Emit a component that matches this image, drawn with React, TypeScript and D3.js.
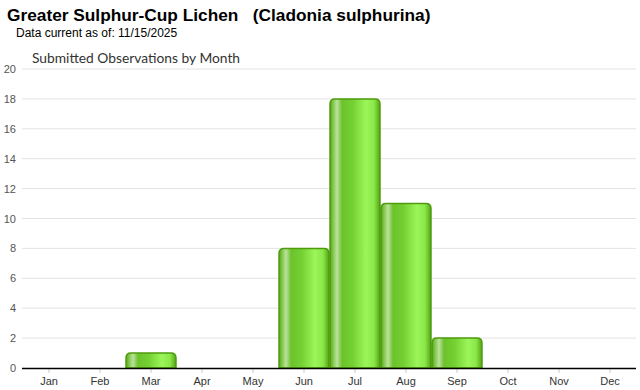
import React from "react";
import * as d3 from "d3";

const months = ["Jan","Feb","Mar","Apr","May","Jun","Jul","Aug","Sep","Oct","Nov","Dec"];
const counts = [0,0,1,0,0,8,18,11,2,0,0,0];
const yTicks = [0,2,4,6,8,10,12,14,16,18,20];

export default function App() {
  const W = 640, H = 390;
  const x = d3.scaleBand<string>().domain(months).range([23.5, 635.5]).paddingInner(0.02).paddingOuter(0.01);
  const y = d3.scaleLinear().domain([0, 20]).range([368, 69]);
  const r = 5;
  const barPath = (x0: number, w: number, yTop: number, yBot: number) => {
    const rr = Math.min(r, (yBot - yTop));
    return `M${x0},${yBot} L${x0},${yTop + rr} Q${x0},${yTop} ${x0 + rr},${yTop} L${x0 + w - rr},${yTop} Q${x0 + w},${yTop} ${x0 + w},${yTop + rr} L${x0 + w},${yBot} Z`;
  };
  return (
    <svg width={W} height={H} style={{ position: "absolute", left: 0, top: 0, fontFamily: "Liberation Sans, Arial, sans-serif" }}>
      <defs>
        <linearGradient id="barGrad" x1="0" x2="1" y1="0" y2="0">
          <stop offset="0%" stopColor="#58a61a" />
          <stop offset="6%" stopColor="#7ec84a" />
          <stop offset="14%" stopColor="#bde19d" />
          <stop offset="24%" stopColor="#6cc22c" />
          <stop offset="45%" stopColor="#74d032" />
          <stop offset="72%" stopColor="#9cf55a" />
          <stop offset="88%" stopColor="#8ae848" />
          <stop offset="100%" stopColor="#56a414" />
        </linearGradient>
      </defs>
      <rect width={W} height={H} fill="#fff" />
      <text x={7} y={21} fontSize={17.3} fontWeight="bold" fill="#000" style={{ whiteSpace: "pre" }}>{"Greater Sulphur-Cup Lichen   (Cladonia sulphurina)"}</text>
      <text x={16} y={37} fontSize={12} fill="#000">Data current as of: 11/15/2025</text>
      <text x={32} y={63} fontSize={13.8} fill="#333" fontFamily="Lato, sans-serif">Submitted Observations by Month</text>
      {yTicks.map(t => (
        <g key={t}>
          {t > 0 && <line x1={22} x2={636} y1={y(t)} y2={y(t)} stroke="#e3e3e3" strokeWidth={1} />}
          <text x={16} y={y(t) + 4} fontSize={11} fill="#555" textAnchor="end">{t}</text>
        </g>
      ))}
      {months.map((m, i) => {
        const cx = (x(m) as number) + x.bandwidth() / 2;
        return (
          <g key={m}>
            <line x1={cx} x2={cx} y1={368} y2={373} stroke="#ccc" />
            <text x={cx} y={385} fontSize={11} fill="#333" textAnchor="middle">{m}</text>
          </g>
        );
      })}
      {counts.map((c, i) => {
        if (c <= 0) return null;
        const x0 = x(months[i]) as number;
        const w = x.bandwidth();
        return (
          <path key={i} d={barPath(x0, w, y(c), y(0))} fill="url(#barGrad)" stroke="#4e9c0e" strokeWidth={1.5} />
        );
      })}
      <line x1={22} x2={636} y1={368.5} y2={368.5} stroke="#000" strokeWidth={1.5} />
    </svg>
  );
}
